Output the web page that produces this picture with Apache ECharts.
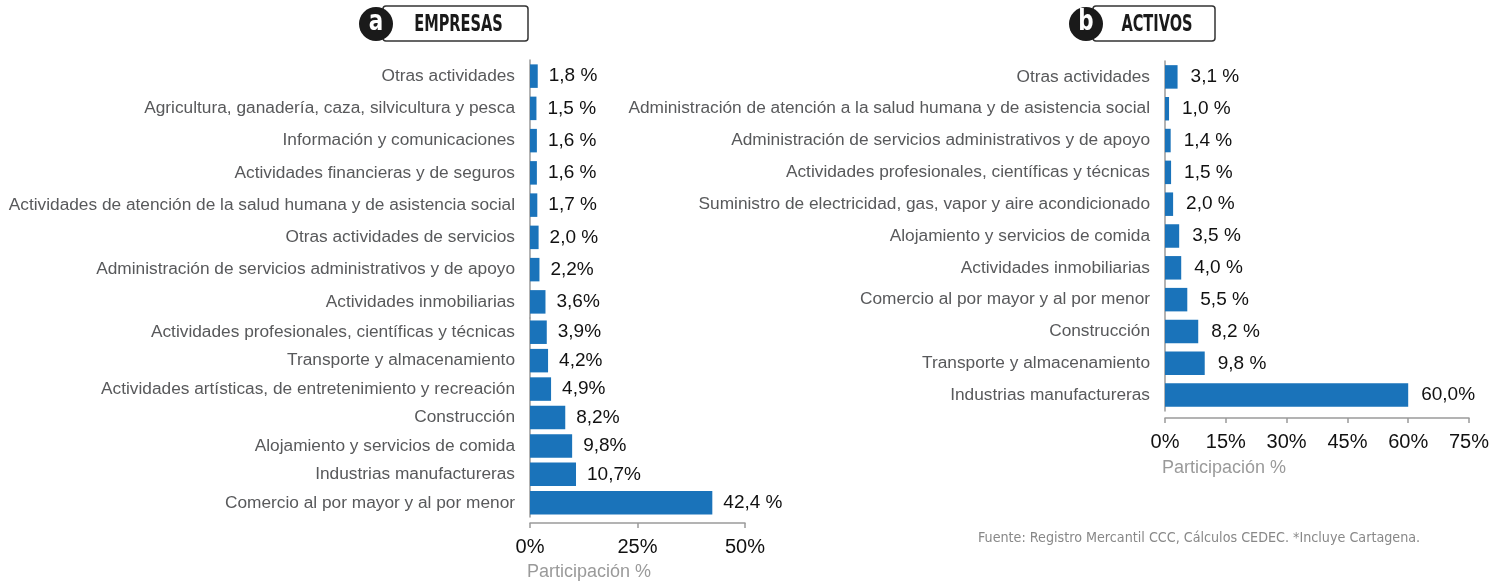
<!DOCTYPE html>
<html>
<head>
<meta charset="utf-8">
<script src="https://cdn.jsdelivr.net/npm/echarts@6/dist/echarts.min.js"></script>
<style>
html,body{margin:0;padding:0;background:#fff;}
#main{width:1510px;height:581px;}
</style>
</head>
<body>
<div id="main"></div>
<script>
// a: empresas
var catsA=['Otras actividades','Agricultura, ganadería, caza, silvicultura y pesca','Información y comunicaciones','Actividades financieras y de seguros','Actividades de atención de la salud humana y de asistencia social','Otras actividades de servicios','Administración de servicios administrativos y de apoyo','Actividades inmobiliarias','Actividades profesionales, científicas y técnicas','Transporte y almacenamiento','Actividades artísticas, de entretenimiento y recreación','Construcción','Alojamiento y servicios de comida','Industrias manufactureras','Comercio al por mayor y al por menor'];
var valsA=[1.8,1.5,1.6,1.6,1.7,2.0,2.2,3.6,3.9,4.2,4.9,8.2,9.8,10.7,42.4];
var textA=['1,8 %','1,5 %','1,6 %','1,6 %','1,7 %','2,0 %','2,2%','3,6%','3,9%','4,2%','4,9%','8,2%','9,8%','10,7%','42,4 %'];
var ticksA=[0,25,50];

// b: activos
var catsB=['Otras actividades','Administración de atención a la salud humana y de asistencia social','Administración de servicios administrativos y de apoyo','Actividades profesionales, científicas y técnicas','Suministro de electricidad, gas, vapor y aire acondicionado','Alojamiento y servicios de comida','Actividades inmobiliarias','Comercio al por mayor y al por menor','Construcción','Transporte y almacenamiento','Industrias manufactureras'];
var valsB=[3.1,1.0,1.4,1.5,2.0,3.5,4.0,5.5,8.2,9.8,60.0];
var textB=['3,1 %','1,0 %','1,4 %','1,5 %','2,0 %','3,5 %','4,0 %','5,5 %','8,2 %','9,8 %','60,0%'];
var ticksB=[0,15,30,45,60,75];

// the left panel has taller rows at the top than at the bottom, so it is split in two grids
var splitA=8;

var FONT='"Liberation Sans", "Noto Sans", sans-serif';
var NARROW='"DejaVu Sans Condensed", "Liberation Sans", sans-serif';
var BLUE='#1a73ba';
var GREY='#9a9a9a';

function yAx(idx,cats){
  return {type:'category',gridIndex:idx,data:cats,inverse:true,
    axisLine:{lineStyle:{color:GREY,width:1.5}},
    axisTick:{length:5,lineStyle:{color:GREY,width:1.5}},
    axisLabel:{color:'#58595b',fontSize:17.3,fontFamily:FONT,margin:15}};
}
function xAx(idx,ticks,show,offset){
  return {type:'value',gridIndex:idx,show:show,offset:offset,
    min:ticks[0],max:ticks[ticks.length-1],interval:ticks[1]-ticks[0],
    axisLine:{show:true,lineStyle:{color:GREY,width:1.5}},
    axisTick:{show:true,length:5,lineStyle:{color:GREY,width:1.5}},
    splitLine:{show:false},
    axisLabel:{color:'#111',fontSize:20,fontFamily:FONT,margin:14,formatter:'{value}%'}};
}
function bars(idx,vals,texts,dist){
  return {type:'bar',xAxisIndex:idx,yAxisIndex:idx,data:vals,barWidth:23.5,
    itemStyle:{color:BLUE},
    label:{show:true,position:'right',distance:dist,color:'#111',fontSize:19,fontFamily:FONT,
      formatter:function(p){return texts[p.dataIndex];}}};
}
function badge(x,w,letter,title){
  return [
    {type:'rect',shape:{x:x,y:6,width:w,height:35,r:3},style:{fill:'#fff',stroke:'#333',lineWidth:1.5}},
    {type:'circle',shape:{cx:x-7,cy:24,r:17},style:{fill:'#1a1a1a'}},
    {type:'text',x:x-7,y:23,scaleX:0.85,style:{text:letter,fill:'#fff',font:'bold 28px '+NARROW,align:'center',verticalAlign:'middle'}},
    {type:'text',x:x+w/2+3,y:25,scaleX:0.72,style:{text:title,fill:'#1a1a1a',font:'bold 22.5px '+NARROW,align:'center',verticalAlign:'middle'}}
  ];
}

var chart=echarts.init(document.getElementById('main'));
chart.setOption({
  animation:false,
  grid:[
    {left:530,right:765,top:60,height:258},
    {left:530,right:765,top:318,height:199},
    {left:1165,right:41,top:61,height:350}
  ],
  xAxis:[xAx(0,ticksA,false,0),xAx(1,ticksA,true,6),xAx(2,ticksB,true,7)],
  yAxis:[yAx(0,catsA.slice(0,splitA)),yAx(1,catsA.slice(splitA)),yAx(2,catsB)],
  series:[
    bars(0,valsA.slice(0,splitA),textA.slice(0,splitA),11),
    bars(1,valsA.slice(splitA),textA.slice(splitA),11),
    bars(2,valsB,textB,13)
  ],
  graphic:[].concat(
    badge(383,145,'a','EMPRESAS'),
    badge(1093,122,'b','ACTIVOS'),
    [
      {type:'text',left:527,top:563,style:{text:'Participación %',fill:GREY,font:'18px '+FONT}},
      {type:'text',left:1162,top:459,style:{text:'Participación %',fill:GREY,font:'18px '+FONT}},
      {type:'text',left:978,top:531,style:{text:'Fuente: Registro Mercantil CCC, Cálculos CEDEC. *Incluye Cartagena.',fill:'#888',font:'14.2px '+NARROW}}
    ])
});
</script>
</body>
</html>
